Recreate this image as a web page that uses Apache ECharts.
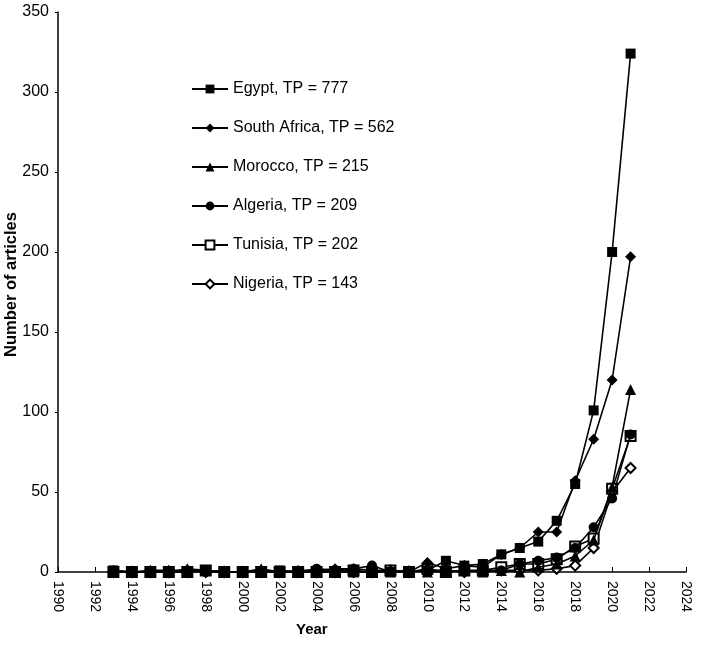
<!DOCTYPE html>
<html>
<head>
<meta charset="utf-8">
<script src="https://cdn.jsdelivr.net/npm/echarts@6/dist/echarts.min.js"></script>
<style>
html,body{margin:0;padding:0;background:#fff;}
#chart{width:709px;height:647px;}
</style>
</head>
<body>
<div id="chart"></div>
<script>
const years = [1993,1994,1995,1996,1997,1998,1999,2000,2001,2002,2003,2004,2005,2006,2007,2008,2009,2010,2011,2012,2013,2014,2015,2016,2017,2018,2019,2020,2021];
const egypt       = [1,0,0,0,0,1,0,0,0,1,0,0,0,0,0,0,0,1,7,4,5,11,15,19,32,55,101,200,324];
const southAfrica = [1,0,1,1,1,1,0,0,1,0,1,1,2,2,1,1,0,6,2,4,3,11,15,25,25,57,83,120,197];
const morocco     = [0,0,0,0,2,1,0,0,2,0,0,1,1,0,0,0,1,0,0,1,0,1,0,3,5,10,20,53,114];
const algeria     = [0,0,0,0,1,0,0,0,0,0,0,2,1,2,4,0,0,1,0,1,0,1,5,7,9,15,28,46,86];
const tunisia     = [0,0,0,0,0,1,0,0,0,0,0,0,0,1,0,1,0,2,0,1,1,3,5,5,8,16,21,52,85];
const nigeria     = [0,0,0,0,0,0,0,0,0,0,0,0,0,0,0,1,0,1,1,0,1,1,1,1,2,4,15,50,65];
const seriesNames = ['Egypt, TP = 777','South Africa, TP = 562','Morocco, TP = 215','Algeria, TP = 209','Tunisia, TP = 202','Nigeria, TP = 143'];
const xTicks = {min:1990, max:2024, interval:2};
const yTicks = {min:0, max:350, interval:50};

const FONT = 'Liberation Sans, Arial, sans-serif';
const vals = [egypt, southAfrica, morocco, algeria, tunisia, nigeria];
const symbols = ['rect','diamond','triangle','circle','emptyRect','emptyDiamond'];
const sizes = [10,11,11,10,10,10];

const chart = echarts.init(document.getElementById('chart'), null, {renderer:'canvas'});
const series = vals.map((v,i)=>({
  name: seriesNames[i],
  type: 'line',
  data: years.map((y,j)=>[y, v[j]]),
  symbol: symbols[i],
  symbolSize: sizes[i],
  showAllSymbol: true,
  lineStyle: {color:'#000', width:1.6},
  itemStyle: {color:'#000', borderColor:'#000', borderWidth: (i>=4)?1.2:0},
  z: 10 - i,
  animation: false
}));

chart.setOption({
  animation: false,
  backgroundColor: '#fff',
  grid: {left:58, right:23, top:12, bottom:75, containLabel:false},
  legend: {
    orient: 'vertical',
    left: 191,
    top: 81,
    padding: 0,
    itemWidth: 36,
    itemHeight: 11,
    itemGap: 23,
    data: seriesNames,
    textStyle: {fontFamily: FONT, fontSize: 16, color:'#000', lineHeight:16}
  },
  xAxis: {
    type: 'value',
    min: xTicks.min, max: xTicks.max, interval: xTicks.interval,
    axisLine: {show:true, onZero:false, lineStyle:{color:'#000', width:1.5}},
    axisTick: {show:true, inside:true, length:5, lineStyle:{color:'#000', width:1}},
    splitLine: {show:false},
    axisLabel: {rotate:-90, fontFamily: FONT, fontSize:14, color:'#000', margin:9, formatter: v => String(v)}
  },
  yAxis: {
    type: 'value',
    min: yTicks.min, max: yTicks.max, interval: yTicks.interval,
    axisLine: {show:true, lineStyle:{color:'#000', width:1.5}},
    axisTick: {show:true, inside:false, length:3, lineStyle:{color:'#000', width:1}},
    splitLine: {show:false},
    axisLabel: {fontFamily: FONT, fontSize:16, color:'#000', margin:9}
  },
  graphic: [
    {type:'text', left: 296, top: 622, style:{text:'Year', font:'bold 15px ' + FONT, fill:'#000'}},
    {type:'text', x: 3, y: 357, rotation: Math.PI/2, style:{text:'Number of articles', font:'bold 16.5px ' + FONT, fill:'#000'}}
  ],
  series: series
});
</script>
</body>
</html>
